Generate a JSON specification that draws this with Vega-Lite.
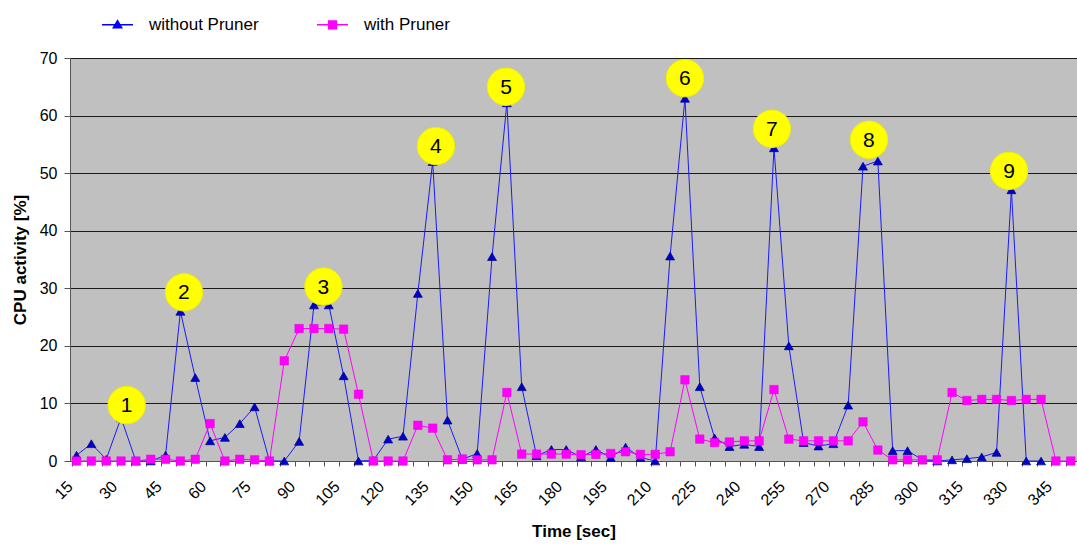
{
  "$schema": "https://vega.github.io/schema/vega-lite/v6.json",
  "width": 1007,
  "height": 403,
  "autosize": {"type": "none"},
  "padding": {"left": 70, "top": 58, "right": 0, "bottom": 83},
  "background": "#FFFFFF",
  "config": {
    "view": {"fill": "#C0C0C0", "stroke": null},
    "font": "Liberation Sans"
  },
  "datasets": {
    "blue": [
      {"t":15,"v":1.0},{"t":20,"v":3.0},{"t":25,"v":0.3},{"t":30,"v":7.5},{"t":35,"v":0},{"t":40,"v":0},
      {"t":45,"v":1.0},{"t":50,"v":26.0},{"t":55,"v":14.5},{"t":60,"v":3.5},{"t":65,"v":4.1},{"t":70,"v":6.5},
      {"t":75,"v":9.4},{"t":80,"v":0},{"t":85,"v":0},{"t":90,"v":3.4},{"t":95,"v":27.1},{"t":100,"v":27.1},
      {"t":105,"v":14.8},{"t":110,"v":0},{"t":115,"v":0.1},{"t":120,"v":3.8},{"t":125,"v":4.3},{"t":130,"v":29.1},
      {"t":135,"v":52.0},{"t":140,"v":7.1},{"t":145,"v":0.3},{"t":150,"v":1.3},{"t":155,"v":35.5},{"t":160,"v":62.2},
      {"t":165,"v":12.9},{"t":170,"v":0.9},{"t":175,"v":2.0},{"t":180,"v":2.0},{"t":185,"v":0.7},{"t":190,"v":2.0},
      {"t":195,"v":0.6},{"t":200,"v":2.4},{"t":205,"v":0.6},{"t":210,"v":0},{"t":215,"v":35.6},{"t":220,"v":63.0},
      {"t":225,"v":12.9},{"t":230,"v":4.0},{"t":235,"v":2.5},{"t":240,"v":2.9},{"t":245,"v":2.5},{"t":250,"v":54.4},
      {"t":255,"v":20.0},{"t":260,"v":3.2},{"t":265,"v":2.6},{"t":270,"v":3.0},{"t":275,"v":9.7},{"t":280,"v":51.2},
      {"t":285,"v":52.1},{"t":290,"v":1.8},{"t":295,"v":1.8},{"t":300,"v":0.2},{"t":305,"v":0},{"t":310,"v":0.2},
      {"t":315,"v":0.4},{"t":320,"v":0.7},{"t":325,"v":1.5},{"t":330,"v":47.1},{"t":335,"v":0},{"t":340,"v":0}
    ],
    "pink": [
      {"t":15,"v":0},{"t":20,"v":0},{"t":25,"v":0},{"t":30,"v":0},{"t":35,"v":0},{"t":40,"v":0.3},
      {"t":45,"v":0.3},{"t":50,"v":0},{"t":55,"v":0.3},{"t":60,"v":6.5},{"t":65,"v":0},{"t":70,"v":0.3},
      {"t":75,"v":0.2},{"t":80,"v":0},{"t":85,"v":17.4},{"t":90,"v":23.0},{"t":95,"v":23.0},{"t":100,"v":23.0},
      {"t":105,"v":22.9},{"t":110,"v":11.6},{"t":115,"v":0},{"t":120,"v":0},{"t":125,"v":0},{"t":130,"v":6.2},
      {"t":135,"v":5.7},{"t":140,"v":0.2},{"t":145,"v":0.35},{"t":150,"v":0.2},{"t":155,"v":0.2},{"t":160,"v":11.9},
      {"t":165,"v":1.2},{"t":170,"v":1.2},{"t":175,"v":1.2},{"t":180,"v":1.2},{"t":185,"v":1.1},{"t":190,"v":1.15},
      {"t":195,"v":1.3},{"t":200,"v":1.6},{"t":205,"v":1.15},{"t":210,"v":1.15},{"t":215,"v":1.6},{"t":220,"v":14.1},
      {"t":225,"v":3.8},{"t":230,"v":3.2},{"t":235,"v":3.3},{"t":240,"v":3.5},{"t":245,"v":3.5},{"t":250,"v":12.4},
      {"t":255,"v":3.8},{"t":260,"v":3.5},{"t":265,"v":3.5},{"t":270,"v":3.5},{"t":275,"v":3.5},{"t":280,"v":6.8},
      {"t":285,"v":1.9},{"t":290,"v":0.2},{"t":295,"v":0.2},{"t":300,"v":0.2},{"t":305,"v":0.2},{"t":310,"v":11.9},
      {"t":315,"v":10.5},{"t":320,"v":10.7},{"t":325,"v":10.7},{"t":330,"v":10.5},{"t":335,"v":10.7},{"t":340,"v":10.7},
      {"t":345,"v":0},{"t":350,"v":0}
    ],
    "peaks": [
      {"n":"1","t":31.9,"v":9.7},{"n":"2","t":51.2,"v":29.3},{"n":"3","t":98.2,"v":30.3},
      {"n":"4","t":136.1,"v":54.7},{"n":"5","t":159.7,"v":65.0},{"n":"6","t":220.0,"v":66.5},
      {"n":"7","t":249.3,"v":57.7},{"n":"8","t":282.0,"v":55.8},{"n":"9","t":329.2,"v":50.4}
    ]
  },
  "encoding": {
    "x": {
      "field": "t", "type": "quantitative",
      "scale": {"domain": [12.8, 352.1], "nice": false, "zero": false},
      "axis": {
        "values": [15,20,25,30,35,40,45,50,55,60,65,70,75,80,85,90,95,100,105,110,115,120,125,130,135,140,145,150,155,160,165,170,175,180,185,190,195,200,205,210,215,220,225,230,235,240,245,250,255,260,265,270,275,280,285,290,295,300,305,310,315,320,325,330,335,340,345,350],
        "labelExpr": "datum.value % 15 === 0 ? datum.label : ''",
        "labelAngle": -45,
        "labelOverlap": false,
        "labelFlush": false,
        "labelFontSize": 16,
        "labelColor": "#000000",
        "labelPadding": 12,
        "tickOffset": -4.5,
        "labelOffset": -8,
        "tickSize": 5,
        "tickColor": "#555555",
        "domainColor": "#555555",
        "grid": false,
        "title": "Time [sec]",
        "titleFontSize": 17,
        "titleFontWeight": "bold",
        "titleColor": "#000000",
        "titlePadding": 15
      }
    },
    "y": {
      "field": "v", "type": "quantitative",
      "scale": {"domain": [0, 70], "nice": false},
      "axis": {
        "values": [0,10,20,30,40,50,60,70],
        "grid": true,
        "gridColor": "#1a1a1a",
        "gridOpacity": 1,
        "gridWidth": 1,
        "domainColor": "#555555",
        "tickColor": "#555555",
        "tickSize": 6,
        "labelFontSize": 16,
        "labelColor": "#000000",
        "labelPadding": 7,
        "title": "CPU activity [%]",
        "titleFontSize": 17,
        "titleFontWeight": "bold",
        "titleColor": "#000000",
        "titlePadding": 10
      }
    }
  },
  "layer": [
    {
      "data": {"name": "blue"},
      "mark": {"type": "line", "color": "#1a1aff", "strokeWidth": 1}
    },
    {
      "data": {"name": "blue"},
      "mark": {"type": "point", "shape": "triangle-up", "filled": true, "size": 80, "fill": "#0000CC", "stroke": "#000080", "strokeWidth": 0.7, "opacity": 1}
    },
    {
      "data": {"name": "pink"},
      "mark": {"type": "line", "color": "#FF00FF", "strokeWidth": 1}
    },
    {
      "data": {"name": "pink"},
      "mark": {"type": "point", "shape": "square", "filled": true, "size": 72, "fill": "#FF00FF", "stroke": "#E000E0", "strokeWidth": 0.5, "opacity": 1}
    },
    {
      "data": {"values": [{"series": "without Pruner"}, {"series": "with Pruner"}]},
      "mark": {"type": "point", "opacity": 0, "filled": true},
      "encoding": {
        "x": {"value": 0},
        "y": {"value": 0},
        "color": {
          "field": "series", "type": "nominal",
          "scale": {"domain": ["without Pruner", "with Pruner"], "range": ["#0000FF", "#FF00FF"]},
          "legend": {
            "orient": "none",
            "legendX": 31,
            "legendY": -50,
            "direction": "horizontal",
            "title": null,
            "padding": 0,
            "labelFontSize": 17,
            "labelColor": "#000000",
            "labelOffset": 15,
            "columnPadding": 55,
            "symbolSize": 961,
            "symbolOpacity": 1,
            "encode": {
              "symbols": {
                "update": {
                  "shape": {"signal": "datum.value === 'without Pruner' ? 'M-1,0H1M0,-0.26L0.27,0.2H-0.27Z' : 'M-1,0H1M-0.25,-0.25H0.25V0.25H-0.25Z'"},
                  "fill": {"signal": "datum.value === 'without Pruner' ? '#0000CC' : '#FF00FF'"},
                  "stroke": {"signal": "datum.value === 'without Pruner' ? '#0000FF' : '#FF00FF'"},
                  "strokeWidth": {"value": 1.5},
                  "opacity": {"value": 1}
                }
              }
            }
          }
        }
      }
    },
    {
      "data": {"name": "peaks"},
      "mark": {"type": "point", "shape": "circle", "filled": true, "size": 1400, "fill": "#FFFF00", "stroke": "#F0F000", "strokeWidth": 1, "opacity": 1}
    },
    {
      "data": {"name": "peaks"},
      "mark": {"type": "text", "fontSize": 21, "color": "#000000", "align": "center", "baseline": "middle", "dy": 1},
      "encoding": {"text": {"field": "n"}}
    }
  ]
}
